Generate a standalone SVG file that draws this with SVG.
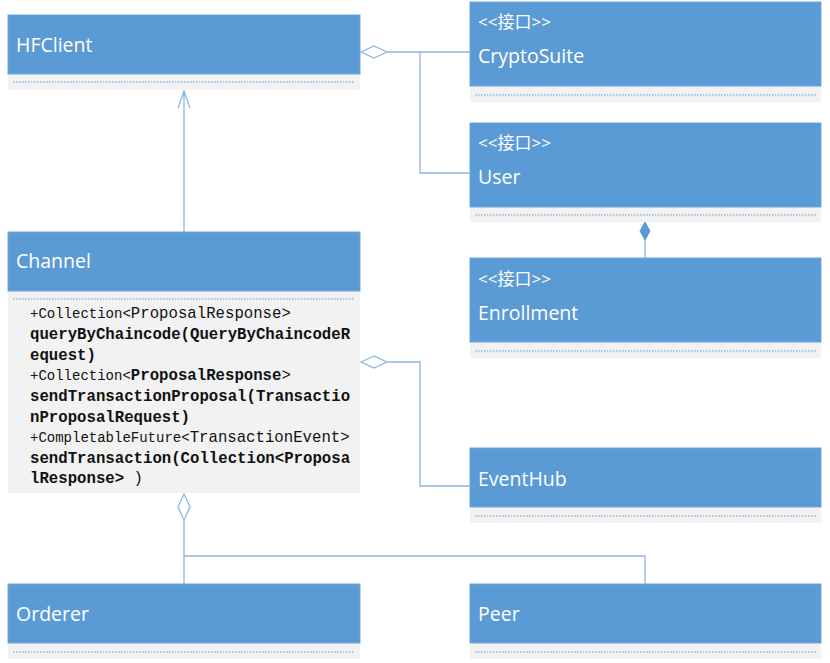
<svg xmlns="http://www.w3.org/2000/svg" width="830" height="663" viewBox="0 0 830 663">
<style>
.hd{fill:#5B9BD5;stroke:#6FA6DC;stroke-width:1}
.bd{fill:#F2F2F2}
.dl{stroke:#5B9BD5;stroke-width:1;stroke-dasharray:1.5 1.5;fill:none}
.t{font-family:"Open Sans","Noto Sans",sans-serif;font-size:19.5px;fill:#FFFFFF}
.st{font-family:"Open Sans","Noto Sans CJK SC",sans-serif;font-size:17px;fill:#FFFFFF}
.c{stroke:#8DB5E2;stroke-width:1.3;fill:none}
.m{font-family:"Liberation Mono","DejaVu Sans Mono",monospace;font-size:15.7px;fill:#111111}
.s{font-size:14px}
.b{font-weight:bold}
</style>
<rect width="830" height="663" fill="#FFFFFF"/>
<g id="HFClient">
<rect class="bd" x="8" y="74" width="352" height="16"/>
<rect class="hd" x="8" y="15" width="352" height="59"/>
<line class="dl" x1="13" y1="82" x2="355" y2="82"/>
<text class="t" x="16" y="52">HFClient</text>
</g>
<g id="CryptoSuite">
<rect class="bd" x="470" y="86" width="351" height="16"/>
<rect class="hd" x="470" y="2" width="351" height="84"/>
<line class="dl" x1="475" y1="95" x2="816" y2="95"/>
<text class="st" x="478" y="28">&lt;&lt;接口&gt;&gt;</text>
<text class="t" x="478" y="63">CryptoSuite</text>
</g>
<g id="User">
<rect class="bd" x="470" y="207" width="351" height="15"/>
<rect class="hd" x="470" y="123" width="351" height="84"/>
<line class="dl" x1="475" y1="215" x2="816" y2="215"/>
<text class="st" x="478" y="149">&lt;&lt;接口&gt;&gt;</text>
<text class="t" x="478" y="184">User</text>
</g>
<g id="Enrollment">
<rect class="bd" x="470" y="342" width="351" height="16"/>
<rect class="hd" x="470" y="258" width="351" height="84"/>
<line class="dl" x1="475" y1="351" x2="816" y2="351"/>
<text class="st" x="478" y="285">&lt;&lt;接口&gt;&gt;</text>
<text class="t" x="478" y="320">Enrollment</text>
</g>
<g id="Channel">
<rect class="bd" x="8" y="291" width="352" height="202"/>
<rect class="hd" x="8" y="232" width="352" height="59"/>
<line class="dl" x1="13" y1="299" x2="355" y2="299"/>
<text class="t" x="16" y="268">Channel</text>
<text class="m" x="30" y="318"><tspan class="s">+Collection&lt;</tspan>ProposalResponse&gt;</text>
<text class="m b" x="30" y="339">queryByChaincode(QueryByChaincodeR</text>
<text class="m b" x="30" y="360">equest)</text>
<text class="m" x="30" y="380"><tspan class="s">+Collection&lt;</tspan><tspan class="b">ProposalResponse</tspan>&gt;</text>
<text class="m b" x="30" y="401">sendTransactionProposal(Transactio</text>
<text class="m b" x="30" y="422">nProposalRequest)</text>
<text class="m" x="30" y="442"><tspan class="s">+CompletableFuture&lt;</tspan>TransactionEvent&gt;</text>
<text class="m b" x="30" y="463">sendTransaction(Collection&lt;Proposa</text>
<text class="m" x="30" y="483"><tspan class="b">lResponse&gt;</tspan> )</text>
</g>
<g id="EventHub">
<rect class="bd" x="470" y="507" width="351" height="16"/>
<rect class="hd" x="470" y="448" width="351" height="59"/>
<line class="dl" x1="475" y1="516" x2="816" y2="516"/>
<text class="t" x="478" y="486">EventHub</text>
</g>
<g id="Orderer">
<rect class="bd" x="8" y="643" width="352" height="16"/>
<rect class="hd" x="8" y="584" width="352" height="59"/>
<line class="dl" x1="13" y1="652" x2="355" y2="652"/>
<text class="t" x="16" y="621">Orderer</text>
</g>
<g id="Peer">
<rect class="bd" x="470" y="643" width="351" height="16"/>
<rect class="hd" x="470" y="584" width="351" height="59"/>
<line class="dl" x1="475" y1="652" x2="816" y2="652"/>
<text class="t" x="478" y="621">Peer</text>
</g>
<g id="connectors">
<path class="c" d="M184,232 V91 M178,108 L184,91 L190,108"/>
<path class="c" d="M361,52 L374,46 L387,52 L374,58 Z M387,52 H470 M420,52 V173 H470"/>
<path class="c" d="M645,240 V258"/>
<path d="M645,222 L650,231 L645,240 L640,231 Z" fill="#5B9BD5" stroke="#5B9BD5" stroke-width="1"/>
<path class="c" d="M361,362 L374,356 L387,362 L374,368 Z M387,362 H420 V486 H470"/>
<path class="c" d="M184,494 L190,507 L184,520 L178,507 Z M184,520 V584 M184,556 H645 V584"/>
</g>
</svg>
